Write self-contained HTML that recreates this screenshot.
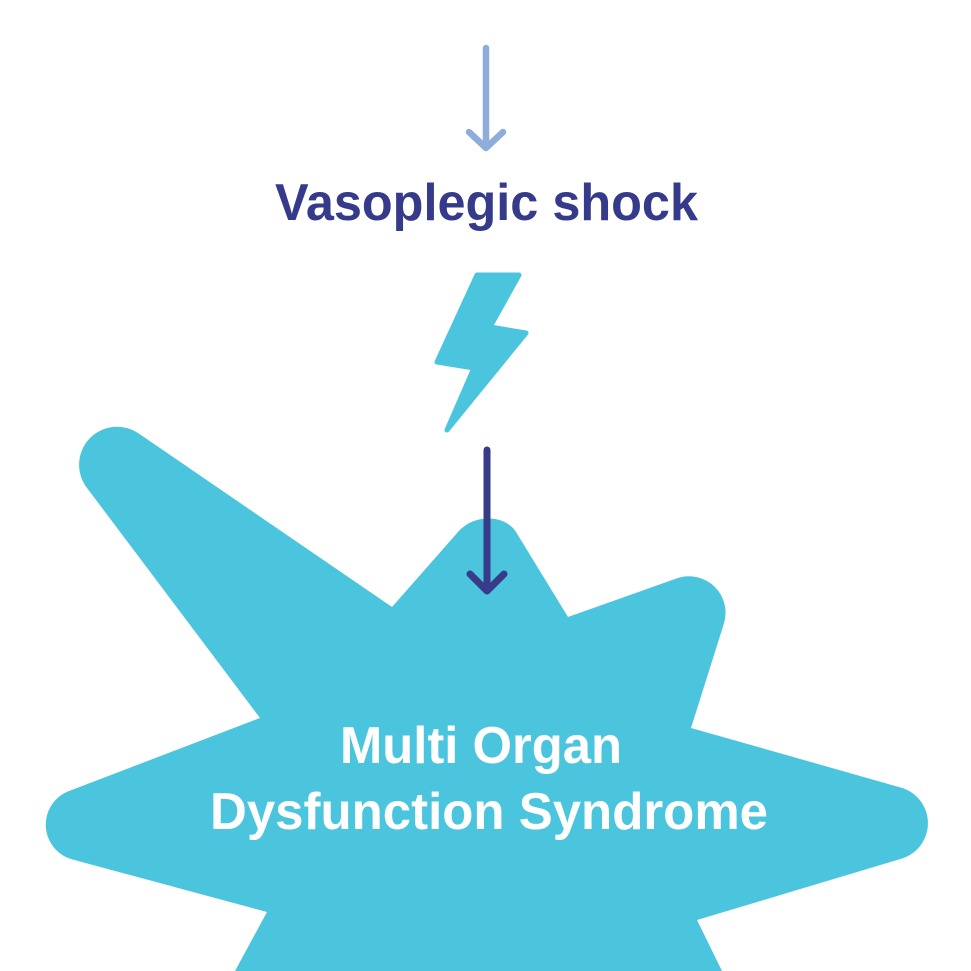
<!DOCTYPE html>
<html>
<head>
<meta charset="utf-8">
<style>
  html, body { margin: 0; padding: 0; background: #ffffff; }
  body { width: 971px; height: 971px; overflow: hidden; }
  svg { display: block; }
  .t { font-family: "Liberation Sans", Arial, sans-serif; font-weight: bold; font-size: 52px; }
</style>
</head>
<body>
<svg width="971" height="971" viewBox="0 0 971 971" xmlns="http://www.w3.org/2000/svg">
  <rect x="0" y="0" width="971" height="971" fill="#ffffff"/>

  <!-- top light arrow -->
  <g stroke="#8eaddb" stroke-width="6.5" stroke-linecap="round" stroke-linejoin="round" fill="none">
    <line x1="486" y1="48" x2="486" y2="146"/>
    <polyline points="469,132 486,148 503,132"/>
  </g>

  <!-- title -->
  <text class="t" x="275" y="220" fill="#353b8a" textLength="423" lengthAdjust="spacingAndGlyphs">Vasoplegic shock</text>

  <!-- lightning bolt -->
  <polygon points="477,275 519,275 490,327 526,333 447,430 474,368 437,362"
           fill="#4bc4de" stroke="#4bc4de" stroke-width="5" stroke-linejoin="round"/>

  <!-- burst shape -->
  <path fill="#4bc4de" d="
    M 87.2,488.2
    A 38 38 0 0 1 139.3,433.9
    L 392,607
    L 458,532
    C 474.5,513 505.6,515 516,532
    L 568,617
    L 676.7,578.4
    A 36.5 36.5 0 0 1 723.8,623.9
    L 691,728
    L 901,787.6
    A 37 37 0 0 1 901.7,858.6
    L 697,920
    L 722,971
    L 235,971
    L 267,912
    L 72.7,859.5
    A 36 36 0 0 1 69,791
    L 260,718
    Z"/>

  <!-- dark arrow -->
  <g stroke="#383b8a" stroke-width="7" stroke-linecap="round" stroke-linejoin="round" fill="none">
    <line x1="487" y1="450" x2="487" y2="589"/>
    <polyline points="470,574 487,591 504,574"/>
  </g>

  <!-- burst text -->
  <text class="t" x="340" y="763" fill="#ffffff" textLength="282" lengthAdjust="spacingAndGlyphs">Multi Organ</text>
  <text class="t" x="210" y="829" fill="#ffffff" textLength="558" lengthAdjust="spacingAndGlyphs">Dysfunction Syndrome</text>
</svg>
</body>
</html>
